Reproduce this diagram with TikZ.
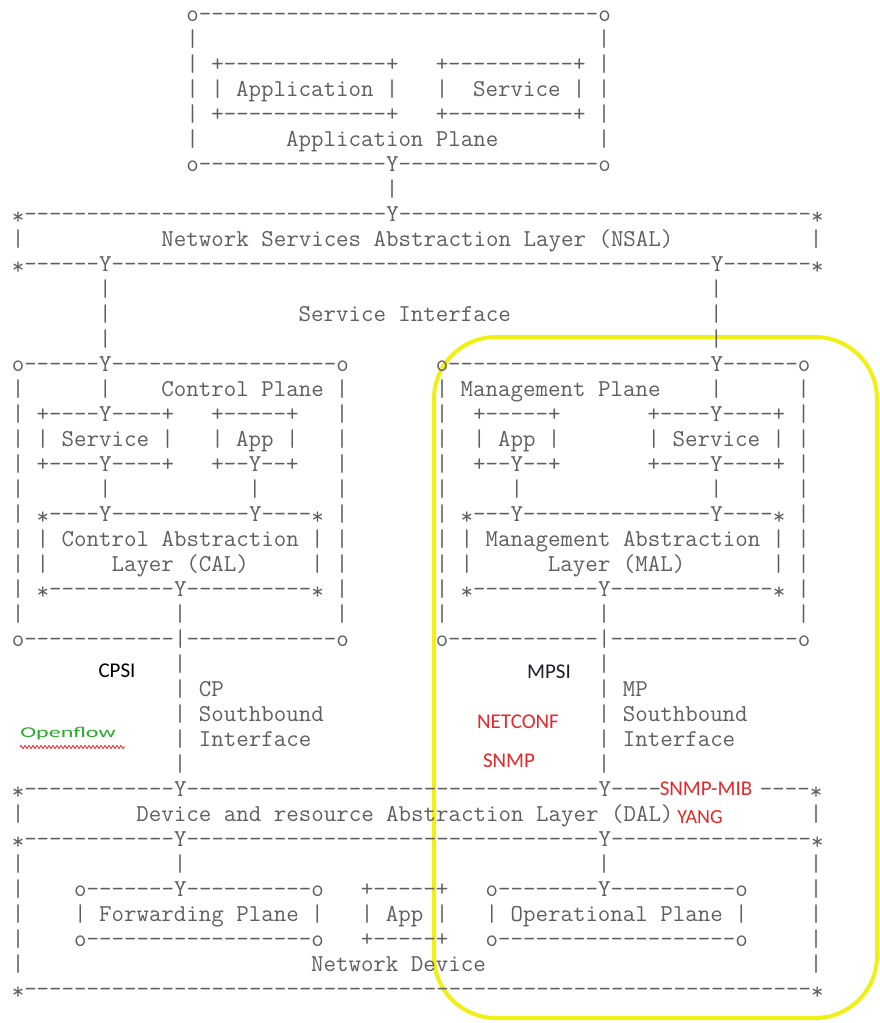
\documentclass[tikz,border=0pt]{standalone}
\usepackage{fontspec}
\usepackage{graphicx}
\newfontfamily\labfont{Carlito}
\usetikzlibrary{decorations.pathmorphing}
\definecolor{asciigray}{RGB}{95,95,95}
\definecolor{notered}{RGB}{232,40,40}
\definecolor{notegreen}{RGB}{40,170,40}
\definecolor{notedark}{RGB}{30,30,45}
\definecolor{hiyellow}{RGB}{240,240,20}
\ExplSyntaxOn
\cs_new:Npn \asciidash #1 { \prg_replicate:nn {#1} { - \kern0pt } }
\ExplSyntaxOff
\newcommand\stc{\raisebox{-0.12em}{*}}
\newcommand\seg[3]{\node[asc] (r#1c#2) at ({11.765pt+#2*12.47pt},{-21.7pt-#1*25pt}) {#3};}
\tikzset{
  asc/.style={anchor=base west, inner sep=0pt, outer sep=0pt,
    font=\ttfamily\fontsize{24.25pt}{25pt}\selectfont, text=asciigray},
  note/.style={inner sep=0pt, font=\labfont\fontsize{21pt}{21pt}\selectfont},
  hiline/.style={draw=hiyellow, line width=4pt, rounded corners=62pt},
}
\begin{document}
\begin{tikzpicture}
\useasboundingbox[fill=white] (0pt,0pt) rectangle (880pt,-1023pt);
% highlight
\draw[hiline] (434pt,-337pt) rectangle (877pt,-1018pt);
% Application plane
\seg{0}{14}{o\asciidash{32}o}
\seg{1}{14}{|}\seg{1}{47}{|}
\seg{2}{14}{|}\seg{2}{16}{+\asciidash{13}+}\seg{2}{34}{+\asciidash{10}+}\seg{2}{47}{|}
\seg{3}{14}{|}\seg{3}{16}{|}\seg{3}{18}{Application}\seg{3}{30}{|}\seg{3}{34}{|}\seg{3}{37}{Service}\seg{3}{45}{|}\seg{3}{47}{|}
\seg{4}{14}{|}\seg{4}{16}{+\asciidash{13}+}\seg{4}{34}{+\asciidash{10}+}\seg{4}{47}{|}
\seg{5}{14}{|}\seg{5}{22}{Application Plane}\seg{5}{47}{|}
\seg{6}{14}{o\asciidash{15}Y\asciidash{16}o}
\seg{7}{30}{|}
% NSAL
\seg{8}{0}{\stc\asciidash{29}Y\asciidash{33}\stc}
\seg{9}{0}{|}\seg{9}{12}{Network Services Abstraction Layer (NSAL)}\seg{9}{64}{|}
\seg{10}{0}{\stc\asciidash{6}Y\asciidash{48}Y\asciidash{7}\stc}
\seg{11}{7}{|}\seg{11}{56}{|}
\seg{12}{7}{|}\seg{12}{23}{Service Interface}\seg{12}{56}{|}
\seg{13}{7}{|}\seg{13}{56}{|}
% Control / Management planes
\seg{14}{0}{o\asciidash{6}Y\asciidash{18}o}\seg{14}{34}{o\asciidash{21}Y\asciidash{6}o}
\seg{15}{0}{|}\seg{15}{7}{|}\seg{15}{12}{Control Plane}\seg{15}{26}{|}\seg{15}{34}{|}\seg{15}{36}{Management Plane}\seg{15}{56}{|}\seg{15}{63}{|}
\seg{16}{0}{|}\seg{16}{2}{+\asciidash{4}Y\asciidash{4}+}\seg{16}{16}{+\asciidash{5}+}\seg{16}{26}{|}\seg{16}{34}{|}\seg{16}{37}{+\asciidash{5}+}\seg{16}{51}{+\asciidash{4}Y\asciidash{4}+}\seg{16}{63}{|}
\seg{17}{0}{|}\seg{17}{2}{|}\seg{17}{4}{Service}\seg{17}{12}{|}\seg{17}{16}{|}\seg{17}{18}{App}\seg{17}{22}{|}\seg{17}{26}{|}\seg{17}{34}{|}\seg{17}{37}{|}\seg{17}{39}{App}\seg{17}{43}{|}\seg{17}{51}{|}\seg{17}{53}{Service}\seg{17}{61}{|}\seg{17}{63}{|}
\seg{18}{0}{|}\seg{18}{2}{+\asciidash{4}Y\asciidash{4}+}\seg{18}{16}{+\asciidash{2}Y\asciidash{2}+}\seg{18}{26}{|}\seg{18}{34}{|}\seg{18}{37}{+\asciidash{2}Y\asciidash{2}+}\seg{18}{51}{+\asciidash{4}Y\asciidash{4}+}\seg{18}{63}{|}
\seg{19}{0}{|}\seg{19}{7}{|}\seg{19}{19}{|}\seg{19}{26}{|}\seg{19}{34}{|}\seg{19}{40}{|}\seg{19}{56}{|}\seg{19}{63}{|}
\seg{20}{0}{|}\seg{20}{2}{\stc\asciidash{4}Y\asciidash{11}Y\asciidash{4}\stc}\seg{20}{26}{|}\seg{20}{34}{|}\seg{20}{36}{\stc\asciidash{3}Y\asciidash{15}Y\asciidash{4}\stc}\seg{20}{63}{|}
\seg{21}{0}{|}\seg{21}{2}{|}\seg{21}{4}{Control Abstraction}\seg{21}{24}{|}\seg{21}{26}{|}\seg{21}{34}{|}\seg{21}{36}{|}\seg{21}{38}{Management Abstraction}\seg{21}{61}{|}\seg{21}{63}{|}
\seg{22}{0}{|}\seg{22}{2}{|}\seg{22}{8}{Layer (CAL)}\seg{22}{24}{|}\seg{22}{26}{|}\seg{22}{34}{|}\seg{22}{36}{|}\seg{22}{43}{Layer (MAL)}\seg{22}{61}{|}\seg{22}{63}{|}
\seg{23}{0}{|}\seg{23}{2}{\stc\asciidash{10}Y\asciidash{10}\stc}\seg{23}{26}{|}\seg{23}{34}{|}\seg{23}{36}{\stc\asciidash{10}Y\asciidash{13}\stc}\seg{23}{63}{|}
\seg{24}{0}{|}\seg{24}{13}{|}\seg{24}{26}{|}\seg{24}{34}{|}\seg{24}{47}{|}\seg{24}{63}{|}
\seg{25}{0}{o\asciidash{12}|\asciidash{12}o}\seg{25}{34}{o\asciidash{12}|\asciidash{15}o}
% Southbound interfaces
\seg{26}{13}{|}\seg{26}{47}{|}
\seg{27}{13}{| CP}\seg{27}{47}{| MP}
\seg{28}{13}{| Southbound}\seg{28}{47}{| Southbound}
\seg{29}{13}{| Interface}\seg{29}{47}{| Interface}
\seg{30}{13}{|}\seg{30}{47}{|}
% DAL and Network Device
\seg{31}{0}{\stc\asciidash{12}Y\asciidash{33}Y\asciidash{4}}\seg{31}{60}{\asciidash{4}\stc}
\seg{32}{0}{|}\seg{32}{10}{Device and resource Abstraction Layer (DAL)}\seg{32}{64}{|}
\seg{33}{0}{\stc\asciidash{12}Y\asciidash{33}Y\asciidash{16}\stc}
\seg{34}{0}{|}\seg{34}{13}{|}\seg{34}{47}{|}\seg{34}{64}{|}
\seg{35}{0}{|}\seg{35}{5}{o\asciidash{7}Y\asciidash{10}o}\seg{35}{28}{+\asciidash{5}+}\seg{35}{38}{o\asciidash{8}Y\asciidash{10}o}\seg{35}{64}{|}
\seg{36}{0}{|}\seg{36}{5}{|}\seg{36}{7}{Forwarding Plane}\seg{36}{24}{|}\seg{36}{28}{|}\seg{36}{30}{App}\seg{36}{34}{|}\seg{36}{38}{|}\seg{36}{40}{Operational Plane}\seg{36}{58}{|}\seg{36}{64}{|}
\seg{37}{0}{|}\seg{37}{5}{o\asciidash{18}o}\seg{37}{28}{+\asciidash{5}+}\seg{37}{38}{o\asciidash{19}o}\seg{37}{64}{|}
\seg{38}{0}{|}\seg{38}{24}{Network Device}\seg{38}{64}{|}
\seg{39}{0}{\stc\asciidash{63}\stc}
% annotations
\node[note, text=black] (cpsi) at (117pt,-671pt) {CPSI};
\node[note, text=notedark] (mpsi) at (549pt,-672pt) {MPSI};
\node[note, text=notered] (netconf) at (518pt,-722pt) {NETCONF};
\node[note, text=notered] (snmp) at (509pt,-761pt) {SNMP};
\node[note, text=notered] (snmpmib) at (706pt,-789pt) {SNMP-MIB};
\node[note, text=notered, font=\labfont\fontsize{20pt}{20pt}\selectfont] (yang) at (700pt,-817pt) {YANG};
\node[inner sep=0pt, text=notegreen, font=\labfont\fontsize{15pt}{15pt}\selectfont] (openflow) at (68pt,-734pt) {\scalebox{1.6}[1]{Openflow}};
\coordinate (wavyA) at (20pt,-747pt);
\coordinate (wavyB) at (125pt,-747pt);
\draw[draw=notered, line width=0.8pt, decorate, decoration={zigzag, segment length=4pt, amplitude=1.6pt}] (wavyA) -- (wavyB);
\end{tikzpicture}
\end{document}
